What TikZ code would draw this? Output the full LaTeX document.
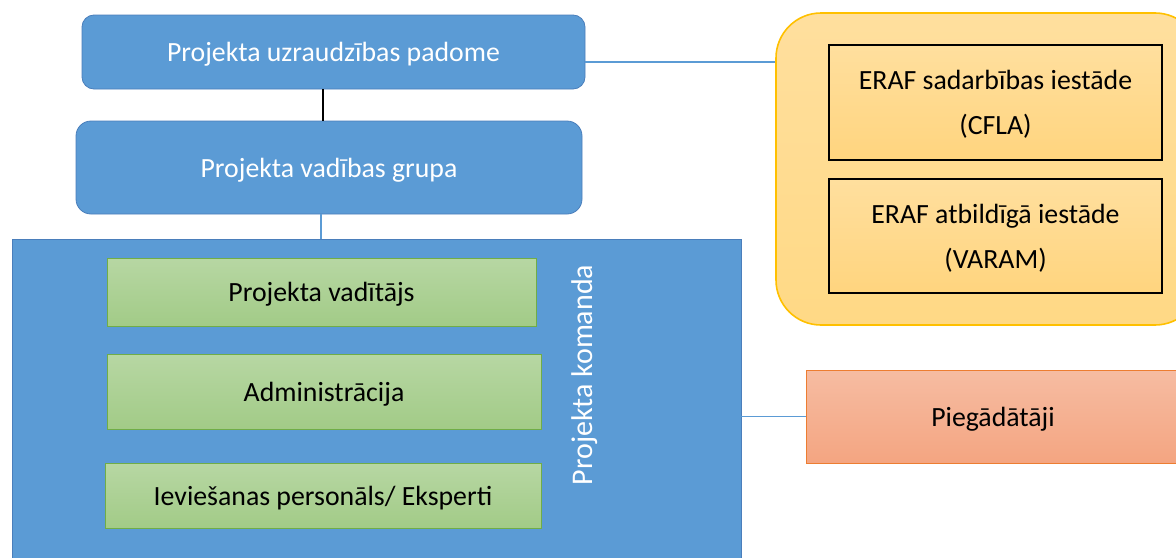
\documentclass[tikz,border=0pt]{standalone}
\usepackage{fontspec}
\setmainfont{Carlito}
\usetikzlibrary{positioning}

\definecolor{boxblue}{HTML}{5B9BD5}
\definecolor{blueedge}{HTML}{4A7EBB}
\definecolor{greentop}{HTML}{B7D7A3}
\definecolor{greenbot}{HTML}{A2CB87}
\definecolor{greenedge}{HTML}{70AD47}
\definecolor{goldfill}{HTML}{FFD985}
\definecolor{goldtop}{HTML}{FFDF9E}
\definecolor{goldedge}{HTML}{FFC000}
\definecolor{salmontop}{HTML}{F6BCA2}
\definecolor{salmonbot}{HTML}{F4A581}
\definecolor{salmonedge}{HTML}{ED7D31}

\begin{document}
\begin{tikzpicture}[
x=0.5pt, y=-0.5pt,
txt/.style={
  font=\fontsize{13.9}{22.5}\selectfont,
  align=center,
  inner sep=0pt,
  text depth=0pt
  },
bluebox/.style={
  txt,
  draw=blueedge,
  fill=boxblue,
  text=white
  },
greenbox/.style={
  txt,
  draw=greenedge,
  top color=greentop,
  bottom color=greenbot
  },
goldbox/.style={
  txt,
  draw=black,
  line width=0.8pt,
  top color=goldtop,
  bottom color=goldfill!95!orange
  },
link/.style={
  draw=boxblue,
  line width=0.6pt
  }
]
\useasboundingbox (0,0) rectangle (1176,557);

% management
\node[bluebox, rounded corners=6pt, minimum width=251.5pt, minimum height=37pt]
  (padome) at (333.5,52) {Projekta uzraudzības padome};
\node[bluebox, rounded corners=7.5pt, minimum width=253pt, minimum height=46.5pt]
  (vadiba) at (329,167.5) {Projekta vadības grupa};

% team
\node[bluebox, minimum width=364.5pt, minimum height=165.5pt]
  (team) at (376.5,404.5) {};
\node[txt, font=\fontsize{15}{18}\selectfont, text=white, rotate=90]
  (komanda) at (582,375) {Projekta komanda};
\node[greenbox, minimum width=214.5pt, minimum height=34pt]
  (vaditajs) at (321.5,292) {Projekta vadītājs};
\node[greenbox, minimum width=217pt, minimum height=37.5pt]
  (admin) at (324,391.5) {Administrācija};
\node[greenbox, minimum width=218pt, minimum height=32.5pt]
  (eksperti) at (323,495.5) {Ieviešanas personāls/ Eksperti};

% ERAF
\node[draw=goldedge, line width=0.8pt, top color=goldtop, bottom color=goldfill,
  rounded corners=22.5pt, minimum width=212pt, minimum height=156pt]
  (eraf) at (988,169) {};
\node[goldbox, minimum width=166.5pt, minimum height=57.5pt]
  (cfla) at (995.5,102.5) {ERAF sadarbības iestāde\\(CFLA)};
\node[goldbox, minimum width=166.5pt, minimum height=57pt]
  (varam) at (995.5,236) {ERAF atbildīgā iestāde\\(VARAM)};

% suppliers
\node[txt, draw=salmonedge, top color=salmontop, bottom color=salmonbot,
  minimum width=187pt, minimum height=46.5pt]
  (piegade) at (993,416.5) {Piegādātāji};

% links
\draw[line width=0.8pt] ([xshift=-3pt]vadiba.north) -- ([xshift=-3pt]vadiba.north |- padome.south);
\draw[link] ([xshift=-4pt]vadiba.south) -- ([xshift=-4pt]vadiba.south |- team.north);
\draw[link] ([yshift=-5pt]padome.east) -- ([yshift=-5pt]padome.east -| eraf.west);
\draw[link] (team.east |- piegade.west) -- (piegade.west);

\end{tikzpicture}
\end{document}
